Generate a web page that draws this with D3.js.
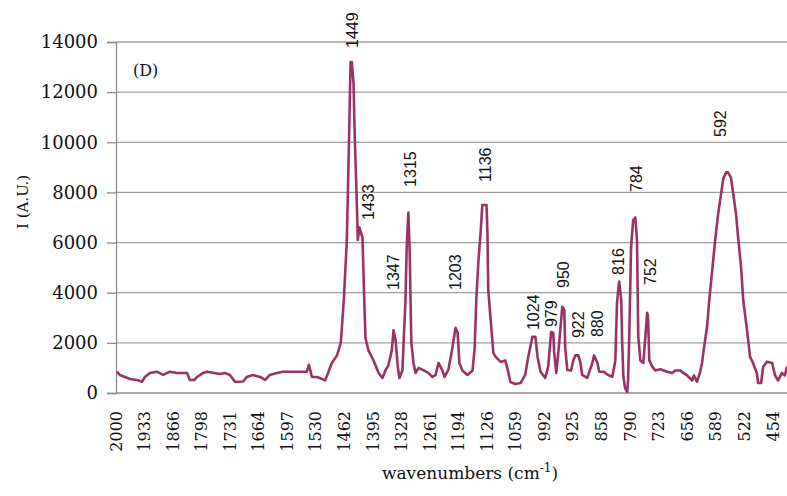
<!DOCTYPE html>
<html>
<head>
<meta charset="utf-8">
<script src="https://cdn.jsdelivr.net/npm/d3@7"></script>
<style>
  body { margin: 0; background: #fff; }
  svg { display: block; }
</style>
</head>
<body>
<div id="chart"></div>
<script>
// spectrum (wavenumber in cm-1, intensity in A.U.)
var wavenumbers = [1998,1991,1979,1967,1951,1939,1932,1920,1904,1889,1873,1856,1833,1826,1816,1809,1795,1786,1769,1755,1744,1732,1720,1701,1692,1678,1661,1649,1638,1621,1607,1586,1567,1551,1546,1539,1527,1515,1508,1501,1492,1480,1471,1464,1457,1453,1448,1445,1441,1438,1434,1431,1427,1420,1417,1413,1406,1394,1382,1373,1366,1359,1351,1347,1342,1337,1333,1326,1323,1319,1316,1312,1309,1305,1300,1295,1288,1276,1265,1255,1248,1241,1232,1227,1218,1208,1201,1196,1192,1185,1173,1161,1156,1152,1147,1142,1138,1135,1128,1126,1124,1119,1112,1107,1095,1084,1077,1072,1060,1048,1037,1030,1020,1013,1008,1001,990,983,976,971,969,964,959,952,950,945,943,938,929,924,919,912,907,903,891,879,875,867,863,853,842,832,825,821,816,811,809,806,802,797,795,792,788,783,778,774,771,766,759,755,750,748,745,738,731,719,703,691,684,672,665,656,644,640,633,626,621,616,609,604,597,590,583,576,571,564,560,553,548,541,536,529,524,515,508,501,492,489,482,477,468,456,449,442,433,426,421];
var intensities = [850,720,640,560,520,450,640,800,850,720,850,800,800,520,520,640,800,850,800,760,800,720,450,460,640,720,640,520,720,800,850,850,850,850,1120,640,640,560,500,800,1200,1500,2000,3700,6000,9000,13200,13200,12350,10100,8000,6100,6600,6200,4400,2200,1700,1300,800,600,900,1100,1700,2500,2100,1050,600,900,2100,3600,5800,7200,5700,2000,1200,800,1000,900,800,640,720,1200,900,640,920,1830,2600,2400,1200,900,720,900,1800,3800,5300,6400,7500,7500,7500,6400,4100,3050,1600,1450,1240,1300,850,440,360,400,720,1440,2240,2240,1440,850,600,1040,2430,2400,1640,800,1640,3000,3440,3300,1800,920,900,1300,1500,1500,1200,720,600,1200,1500,1200,850,850,720,650,1300,3600,4450,3700,2100,650,200,50,520,2400,5800,6900,7000,6100,2240,1300,1200,2100,3200,3050,1300,1050,900,950,850,800,900,900,800,700,500,700,450,800,1200,1850,2650,3700,4900,6100,7150,7950,8550,8800,8800,8600,8000,7150,6200,5000,3700,2500,1450,1200,800,400,400,1050,1250,1200,700,500,800,700,1050,1100,900,900,1300];

// peak annotations
var peakNames = ["1449","1433","1315","1347","1203","1136","1024","979","950","922","880","816","784","752","592"];
var peakLabelWn = [1443,1406,1307,1347,1201,1131,1018,976,947,912,867,818,776,743,578];
var peakLabelBase = [13760,6900,8220,4110,4110,8420,2510,2630,4190,2190,2230,4710,8020,4310,10210];

// axis ticks
var yTicks = [0,2000,4000,6000,8000,10000,12000,14000];
var xTickLabels = [2000,1933,1866,1798,1731,1664,1597,1530,1462,1395,1328,1261,1194,1126,1059,992,925,858,790,723,656,589,522,454];

var W = 787, H = 496;
var margin = {left: 116, top: 42, right: 0, bottom: 103};

var svg = d3.select("#chart").append("svg")
    .attr("width", W)
    .attr("height", H);

var x = d3.scaleLinear()
    .domain([2000, 421])
    .range([margin.left, W - margin.right]);
var y = d3.scaleLinear()
    .domain([0, 14000])
    .range([H - margin.bottom, margin.top]);

// gridlines
svg.append("g")
    .selectAll("line")
    .data(yTicks.slice(1))
    .enter().append("line")
    .attr("x1", margin.left).attr("x2", W)
    .attr("y1", d => y(d)).attr("y2", d => y(d))
    .attr("stroke", "#a0a0a0")
    .attr("stroke-width", 1.3);

// y axis
var yAxis = svg.append("g")
    .attr("transform", "translate(" + margin.left + ",0)")
    .call(d3.axisLeft(y).tickValues(yTicks).tickSize(9).tickPadding(9).tickFormat(d3.format("d")));
yAxis.select(".domain").attr("stroke", "#8c8c8c").attr("stroke-width", 1.3);
yAxis.selectAll(".tick line").attr("stroke", "#8c8c8c").attr("stroke-width", 1.3);
yAxis.selectAll("text")
    .style("font-family", "DejaVu Serif")
    .style("font-size", "18px")
    .attr("fill", "#111");

// x axis line
svg.append("line")
    .attr("x1", margin.left).attr("x2", W)
    .attr("y1", y(0)).attr("y2", y(0))
    .attr("stroke", "#8c8c8c")
    .attr("stroke-width", 1.3);

// x tick labels, rotated
svg.append("g")
    .selectAll("text")
    .data(xTickLabels)
    .enter().append("text")
    .attr("transform", d => "translate(" + x(d) + "," + (y(0) + 18) + ") rotate(-90)")
    .attr("text-anchor", "end")
    .attr("dy", "0.35em")
    .style("font-family", "DejaVu Serif")
    .style("font-size", "16px")
    .attr("fill", "#111")
    .text(d => d);

// spectrum
var pts = wavenumbers.map((w, i) => [w, intensities[i]]);
var line = d3.line()
    .x(d => x(d[0]))
    .y(d => y(d[1]));
svg.append("path")
    .datum(pts)
    .attr("d", line)
    .attr("fill", "none")
    .attr("stroke", "#993366")
    .attr("stroke-width", 2.6)
    .attr("stroke-linejoin", "round");

// peak labels
svg.append("g")
    .selectAll("text")
    .data(peakNames)
    .enter().append("text")
    .attr("transform", (d, i) => "translate(" + x(peakLabelWn[i]) + "," + y(peakLabelBase[i]) + ") rotate(-90)")
    .attr("text-anchor", "start")
    .attr("dy", "0.35em")
    .style("font-family", "Liberation Sans")
    .style("font-size", "16px")
    .attr("fill", "#111")
    .text(d => d);

// panel tag
svg.append("text")
    .attr("x", 133).attr("y", 76)
    .style("font-family", "DejaVu Serif")
    .style("font-size", "16px")
    .attr("fill", "#111")
    .text("(D)");

// axis titles
var xt = svg.append("text")
    .attr("x", 470).attr("y", 479)
    .attr("text-anchor", "middle")
    .style("font-family", "DejaVu Serif")
    .style("font-size", "17px")
    .attr("fill", "#111");
xt.append("tspan").text("wavenumbers (cm");
xt.append("tspan").attr("dy", -7).style("font-size", "12px").text("-1");
xt.append("tspan").attr("dy", 7).text(")");

svg.append("text")
    .attr("transform", "translate(23,202) rotate(-90)")
    .attr("text-anchor", "middle")
    .attr("dy", "0.35em")
    .style("font-family", "DejaVu Serif")
    .style("font-size", "15px")
    .attr("fill", "#111")
    .text("I (A.U.)");
</script>
</body>
</html>
